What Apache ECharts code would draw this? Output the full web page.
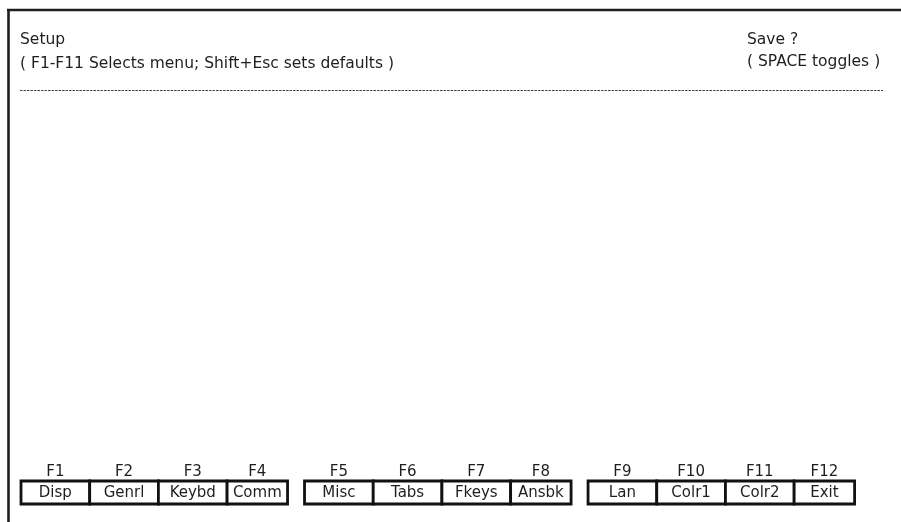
<!DOCTYPE html>
<html>
<head>
<meta charset="utf-8">
<script src="https://cdn.jsdelivr.net/npm/echarts@6/dist/echarts.min.js"></script>
<style>
html,body{margin:0;padding:0;background:#fff;}
#c{width:901px;height:522px;}
</style>
</head>
<body>
<div id="c"></div>
<script>
// ---- data ----
var fkeys = ['F1','F2','F3','F4','F5','F6','F7','F8','F9','F10','F11','F12'];
var menus = ['Disp','Genrl','Keybd','Comm','Misc','Tabs','Fkeys','Ansbk','Lan','Colr1','Colr2','Exit'];
var titleLines = ['Setup', '( F1-F11 Selects menu; Shift+Esc sets defaults )'];
var saveLines = ['Save ?', '( SPACE toggles )'];

// ---- layout (in axis units; 1 unit = one key slot) ----
var perGroup = 4;
var groupPitch = 4.127;   // slots from one group start to the next
var lastWidth = 0.88;     // last key of each group is narrower
var FONT = '"DejaVu Sans", "Liberation Sans", Arial, sans-serif';
var INK = '#1e1e1e';

function slotLeft(i) {
  var g = Math.floor(i / perGroup), k = i % perGroup;
  return g * groupPitch + k;
}
function slotWidth(i) {
  return (i % perGroup === perGroup - 1) ? lastWidth : 1;
}

var chart = echarts.init(document.getElementById('c'), null, {renderer: 'canvas'});

function hdr(x, y, t) {
  return {type: 'text', x: x, y: y, style: {text: t, font: '15.5px ' + FONT, fill: INK, verticalAlign: 'middle'}};
}

var option = {
  animation: false,
  backgroundColor: '#fff',
  grid: {left: 21, right: 0, top: 0, bottom: 0},
  xAxis: {type: 'value', min: 0, max: 880 / 68.7, show: false},
  yAxis: {type: 'value', min: 0, max: 522, inverse: true, show: false},
  graphic: [
    // window border (top + left)
    {type: 'line', shape: {x1: 7, y1: 10, x2: 901, y2: 10}, style: {stroke: INK, lineWidth: 2.6}, z: 10},
    {type: 'line', shape: {x1: 8.5, y1: 9, x2: 8.5, y2: 522}, style: {stroke: INK, lineWidth: 2.6}, z: 10},
    // header texts
    hdr(20, 40, titleLines[0]),
    hdr(20, 64, titleLines[1]),
    hdr(747, 40, saveLines[0]),
    hdr(747, 62, saveLines[1]),
    // dashed separator
    {type: 'line', shape: {x1: 20, y1: 90.5, x2: 883, y2: 90.5}, style: {stroke: '#444', lineWidth: 1, lineDash: [2.5, 1]}}
  ],
  series: [{
    type: 'custom',
    coordinateSystem: 'cartesian2d',
    data: menus.map(function (m, i) { return [i, m, fkeys[i]]; }),
    encode: {x: 0},
    renderItem: function (params, api) {
      var i = api.value(0);
      var x0 = slotLeft(i), w = slotWidth(i);
      var p0 = api.coord([x0, 481]);
      var p1 = api.coord([x0 + w, 504]);
      var cx = (p0[0] + p1[0]) / 2;
      return {
        type: 'group',
        children: [
          {type: 'rect', shape: {x: p0[0], y: p0[1], width: p1[0] - p0[0], height: p1[1] - p0[1]},
           style: {fill: '#fff', stroke: '#111', lineWidth: 2.8}},
          {type: 'text', x: cx, y: 493.5, style: {text: menus[i], font: '15px ' + FONT, fill: INK, align: 'center', verticalAlign: 'middle'}},
          {type: 'text', x: cx, y: 472, style: {text: fkeys[i], font: '15px ' + FONT, fill: INK, align: 'center', verticalAlign: 'middle'}}
        ]
      };
    }
  }]
};
chart.setOption(option);
</script>
</body>
</html>
